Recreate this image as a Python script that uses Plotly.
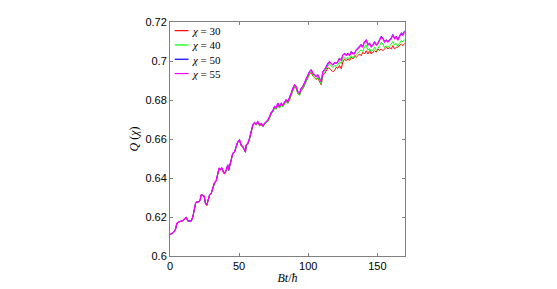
import plotly.graph_objects as go

# time axis Bt/hbar
t = [0, 1.3, 2.5, 4, 5, 6.9, 8.8, 10.5, 11.7, 12.9,
     15.3, 16.5, 17.7, 18.5, 19.4, 20.8, 21.8, 22.5, 23.7, 24.7,
     25.7, 26.6, 27.6, 28.6, 29.8, 31, 32.2, 33.4, 34.5, 35.5,
     36.5, 37.5, 38.4, 39.4, 40.7, 41.8, 42.4, 43, 44.3, 45.4,
     46.7, 47.9, 49, 50.3, 51.5, 52.7, 53.9, 54.6, 55.1, 56.3,
     57.5, 58.3, 59.2, 59.9, 61.1, 62.4, 63.5, 64.8, 66, 67.1,
     68.4, 69.6, 70.8, 72, 73.2, 74.4, 75.6, 76.8, 78, 79.2,
     80.5, 81.6, 82.8, 84, 85.2, 86.5, 87.7, 88.9, 90.1, 91.3,
     92.5, 93.7, 94.9, 96.1, 97.3, 98.6, 99.7, 100.9, 102.2, 103.3,
     104.6, 105.8, 106.9, 108.2, 109.4, 110, 110.6, 111.8, 113, 114.2,
     115.4, 116.6, 117.8, 119, 120.3, 121.4, 122.6, 123.9, 125, 126.3,
     127.5, 128.7, 129.9, 131.1, 132.3, 133.5, 134.7, 135.9, 137.1, 138.3,
     139.5, 140.7, 142, 143.2, 144.4, 145.6, 146.8, 148, 149.2, 150.4,
     151.6, 152.8, 154, 155.2, 156.4, 157.6, 158.8, 160, 161.2, 162.4,
     163.7, 164.8, 166, 167.3, 168.5, 169.7]

q30 = [0.6110, 0.6115, 0.6120, 0.6137, 0.6168, 0.6176, 0.6180, 0.6188, 0.6198, 0.6180,
       0.6179, 0.6200, 0.6236, 0.6270, 0.6278, 0.6278, 0.6287, 0.6313, 0.6311, 0.6306,
       0.6266, 0.6258, 0.6285, 0.6311, 0.6320, 0.6353, 0.6374, 0.6384, 0.6426, 0.6446,
       0.6440, 0.6448, 0.6430, 0.6420, 0.6437, 0.6463, 0.6436, 0.6454, 0.6488, 0.6523,
       0.6531, 0.6565, 0.6582, 0.6591, 0.6565, 0.6557, 0.6540, 0.6531, 0.6565, 0.6574,
       0.6599, 0.6625, 0.6651, 0.6668, 0.6680, 0.6672, 0.6684, 0.6667, 0.6675, 0.6662,
       0.6675, 0.6684, 0.6692, 0.6709, 0.6730, 0.6740, 0.6761, 0.6754, 0.6777, 0.6760,
       0.6777, 0.6767, 0.6784, 0.6793, 0.6784, 0.6801, 0.6826, 0.6852, 0.6868, 0.6859,
       0.6834, 0.6825, 0.6850, 0.6858, 0.6875, 0.6892, 0.6908, 0.6932, 0.6941, 0.6923,
       0.6914, 0.6905, 0.6912, 0.6895, 0.6878, 0.6902, 0.6927, 0.6935, 0.6950, 0.6965,
       0.6962, 0.6953, 0.6945, 0.6951, 0.6968, 0.6962, 0.6977, 0.6960, 0.6994, 0.7010,
       0.7002, 0.7010, 0.7002, 0.7019, 0.7010, 0.7027, 0.7019, 0.7027, 0.7036, 0.7027,
       0.7045, 0.7036, 0.7053, 0.7036, 0.7053, 0.7036, 0.7045, 0.7053, 0.7045, 0.7062,
       0.7053, 0.7062, 0.7053, 0.7062, 0.7070, 0.7062, 0.7070, 0.7062, 0.7079, 0.7062,
       0.7070, 0.7070, 0.7079, 0.7087, 0.7079, 0.7090]

q40 = [0.6110, 0.6115, 0.6120, 0.6137, 0.6168, 0.6176, 0.6180, 0.6188, 0.6198, 0.6180,
       0.6179, 0.6200, 0.6236, 0.6270, 0.6278, 0.6278, 0.6287, 0.6313, 0.6311, 0.6308,
       0.6269, 0.6261, 0.6287, 0.6313, 0.6321, 0.6355, 0.6376, 0.6386, 0.6428, 0.6448,
       0.6443, 0.6450, 0.6433, 0.6422, 0.6439, 0.6465, 0.6438, 0.6456, 0.6490, 0.6525,
       0.6532, 0.6565, 0.6583, 0.6592, 0.6566, 0.6558, 0.6540, 0.6531, 0.6565, 0.6575,
       0.6600, 0.6626, 0.6651, 0.6668, 0.6680, 0.6673, 0.6685, 0.6667, 0.6676, 0.6662,
       0.6675, 0.6684, 0.6692, 0.6708, 0.6729, 0.6738, 0.6760, 0.6752, 0.6776, 0.6758,
       0.6775, 0.6765, 0.6783, 0.6792, 0.6782, 0.6800, 0.6825, 0.6851, 0.6868, 0.6858,
       0.6833, 0.6824, 0.6850, 0.6858, 0.6876, 0.6893, 0.6910, 0.6935, 0.6944, 0.6926,
       0.6917, 0.6909, 0.6916, 0.6900, 0.6882, 0.6908, 0.6933, 0.6942, 0.6959, 0.6976,
       0.6984, 0.6975, 0.6966, 0.6976, 0.6974, 0.6980, 0.6997, 0.6987, 0.7012, 0.7020,
       0.7011, 0.7019, 0.7010, 0.7027, 0.7017, 0.7016, 0.7034, 0.7042, 0.7050, 0.7058,
       0.7049, 0.7073, 0.7082, 0.7056, 0.7064, 0.7047, 0.7055, 0.7071, 0.7055, 0.7063,
       0.7079, 0.7096, 0.7087, 0.7069, 0.7078, 0.7069, 0.7078, 0.7086, 0.7100, 0.7083,
       0.7090, 0.7075, 0.7090, 0.7105, 0.7098, 0.7110]

q50 = [0.6110, 0.6115, 0.6120, 0.6137, 0.6168, 0.6176, 0.6180, 0.6188, 0.6198, 0.6180,
       0.6179, 0.6200, 0.6236, 0.6270, 0.6278, 0.6278, 0.6287, 0.6313, 0.6311, 0.6308,
       0.6270, 0.6262, 0.6287, 0.6313, 0.6321, 0.6355, 0.6376, 0.6386, 0.6430, 0.6451,
       0.6445, 0.6452, 0.6435, 0.6424, 0.6441, 0.6468, 0.6440, 0.6458, 0.6492, 0.6527,
       0.6535, 0.6570, 0.6587, 0.6596, 0.6569, 0.6561, 0.6544, 0.6535, 0.6569, 0.6578,
       0.6603, 0.6630, 0.6656, 0.6673, 0.6685, 0.6677, 0.6690, 0.6672, 0.6681, 0.6667,
       0.6681, 0.6690, 0.6698, 0.6715, 0.6736, 0.6746, 0.6768, 0.6761, 0.6785, 0.6767,
       0.6785, 0.6775, 0.6793, 0.6802, 0.6792, 0.6811, 0.6836, 0.6862, 0.6879, 0.6869,
       0.6844, 0.6835, 0.6862, 0.6870, 0.6888, 0.6905, 0.6922, 0.6947, 0.6956, 0.6938,
       0.6929, 0.6921, 0.6930, 0.6912, 0.6895, 0.6921, 0.6947, 0.6956, 0.6973, 0.6990,
       0.6995, 0.6990, 0.6978, 0.6992, 0.6990, 0.6998, 0.7015, 0.7005, 0.7030, 0.7040,
       0.7032, 0.7040, 0.7030, 0.7050, 0.7040, 0.7040, 0.7058, 0.7066, 0.7075, 0.7086,
       0.7075, 0.7100, 0.7110, 0.7085, 0.7092, 0.7075, 0.7085, 0.7100, 0.7085, 0.7092,
       0.7110, 0.7128, 0.7118, 0.7100, 0.7110, 0.7100, 0.7110, 0.7118, 0.7137, 0.7118,
       0.7128, 0.7110, 0.7128, 0.7145, 0.7138, 0.7155]

q55 = [0.6110, 0.6115, 0.6120, 0.6137, 0.6168, 0.6176, 0.6180, 0.6188, 0.6198, 0.6180,
       0.6179, 0.6200, 0.6236, 0.6270, 0.6278, 0.6278, 0.6287, 0.6313, 0.6311, 0.6308,
       0.6270, 0.6262, 0.6287, 0.6313, 0.6321, 0.6355, 0.6376, 0.6386, 0.6430, 0.6450,
       0.6445, 0.6452, 0.6435, 0.6424, 0.6441, 0.6467, 0.6440, 0.6458, 0.6492, 0.6527,
       0.6535, 0.6569, 0.6586, 0.6595, 0.6569, 0.6561, 0.6544, 0.6535, 0.6569, 0.6578,
       0.6603, 0.6629, 0.6655, 0.6672, 0.6684, 0.6677, 0.6689, 0.6672, 0.6680, 0.6667,
       0.6680, 0.6689, 0.6697, 0.6714, 0.6735, 0.6745, 0.6766, 0.6760, 0.6783, 0.6766,
       0.6783, 0.6774, 0.6791, 0.6800, 0.6791, 0.6809, 0.6834, 0.6860, 0.6877, 0.6868,
       0.6843, 0.6834, 0.6860, 0.6868, 0.6886, 0.6903, 0.6920, 0.6945, 0.6954, 0.6937,
       0.6928, 0.6920, 0.6928, 0.6911, 0.6894, 0.6920, 0.6945, 0.6954, 0.6971, 0.6988,
       0.6997, 0.6988, 0.6980, 0.6990, 0.6988, 0.6995, 0.7012, 0.7003, 0.7029, 0.7037,
       0.7029, 0.7037, 0.7029, 0.7046, 0.7037, 0.7037, 0.7055, 0.7063, 0.7072, 0.7081,
       0.7072, 0.7097, 0.7106, 0.7081, 0.7089, 0.7072, 0.7081, 0.7097, 0.7081, 0.7089,
       0.7106, 0.7123, 0.7114, 0.7097, 0.7106, 0.7097, 0.7106, 0.7114, 0.7132, 0.7114,
       0.7123, 0.7106, 0.7123, 0.7140, 0.7132, 0.7150]

chis = ["30", "40", "50", "55"]
colors = ["#ff0000", "#00ff00", "#0000ff", "#ff00ff"]
widths = [1, 1, 0.8, 1.25]
series = [q30, q40, q50, q55]

# page body has an 8px margin: figure is 549x281 placed at (8, 8)
W, H = 549, 281
ML, MR, MT, MB = 162, 152, 14, 33
plot_h = H - MT - MB

fig = go.Figure()
for chi, col, w, q in zip(chis, colors, widths, series):
    fig.add_trace(go.Scatter(x=t, y=q, mode="lines", name="χ = " + chi,
                             line=dict(color=col, width=w), showlegend=False))

# compact legend (top-left, inside axes): sample lines + one multi-line text block
leg_font = 11
line_h = leg_font * 1.3           # plotly's line spacing
top_off = 1.5                     # text block top, px below plot top
for i, col in enumerate(colors):
    yy = 1 - (top_off + line_h * (i + 0.5)) / plot_h
    fig.add_shape(type="line", xref="paper", yref="paper",
                  x0=0.02, x1=0.079, y0=yy, y1=yy,
                  line=dict(color=col, width=1.2))
fig.add_annotation(xref="paper", yref="paper", x=0.083,
                   y=1 - top_off / plot_h,
                   xanchor="left", yanchor="top", showarrow=False, align="left",
                   text="<br>".join("<i>χ</i> = " + c for c in chis),
                   font=dict(family="Liberation Serif, DejaVu Serif, serif",
                             size=leg_font, color="#000000"))

axis_common = dict(showline=True, linecolor="#808080", linewidth=1, mirror="ticks",
                   ticks="inside", ticklen=3, tickcolor="#808080", showgrid=False,
                   zeroline=False, automargin=False,
                   tickfont=dict(family="Liberation Sans, Arial, sans-serif",
                                 size=11, color="#000000"))

fig.update_layout(
    width=W, height=H,
    margin=dict(l=ML, r=MR, t=MT, b=MB),
    plot_bgcolor="white", paper_bgcolor="white",
    xaxis=dict(range=[0, 170], tickvals=[0, 50, 100, 150],
               title=dict(text="<i>Bt</i>/<i>ħ</i>", standoff=2,
                          font=dict(family="Liberation Serif, DejaVu Serif, serif",
                                    size=12, color="#000000")),
               **axis_common),
    yaxis=dict(range=[0.6, 0.72], tickvals=[0.6, 0.62, 0.64, 0.66, 0.68, 0.7, 0.72],
               ticktext=["0.6", "0.62", "0.64", "0.66", "0.68", "0.7", "0.72"],
               title=dict(text="<i>Q</i> (<i>χ</i>)", standoff=4,
                          font=dict(family="Liberation Serif, DejaVu Serif, serif",
                                    size=12, color="#000000")),
               **axis_common),
)

fig.write_html("out.html")
